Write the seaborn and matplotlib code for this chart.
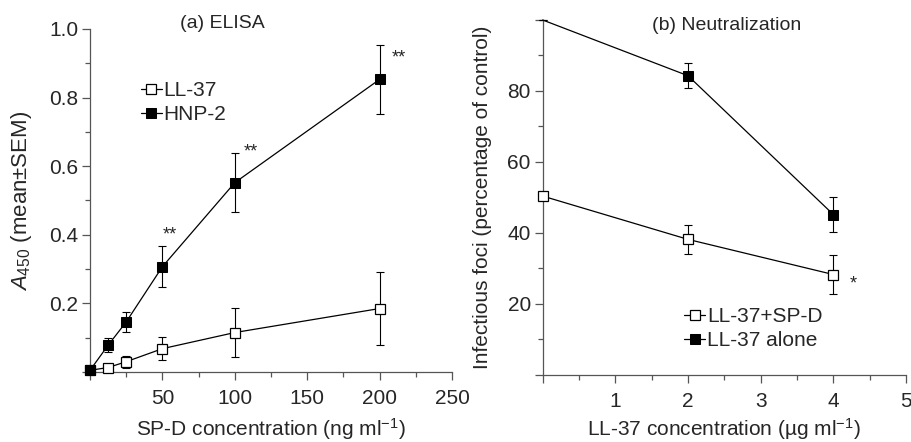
import numpy as np
import pandas as pd
import matplotlib
matplotlib.use("Agg")
import matplotlib.pyplot as plt
import seaborn as sns
from matplotlib.ticker import MultipleLocator, FuncFormatter

# Data
elisa_conc = [0, 12.5, 25, 50, 100, 200]
ll37_mean = [0.005, 0.013, 0.03, 0.068, 0.115, 0.185]
ll37_sem = [0.0, 0.008, 0.018, 0.034, 0.072, 0.106]
hnp2_mean = [0.005, 0.078, 0.146, 0.307, 0.552, 0.853]
hnp2_sem = [0.0, 0.02, 0.028, 0.06, 0.087, 0.1]

neut_conc = [0, 2, 4]
ll37_spd_mean = [50.4, 38.2, 28.3]
ll37_spd_sem = [0.0, 4.0, 5.5]
ll37_alone_mean = [100, 84.3, 45.2]
ll37_alone_sem = [0.0, 3.6, 5.0]

sns.set_style("ticks")
plt.rcParams['font.family'] = ['Liberation Sans', 'DejaVu Sans']
plt.rcParams['mathtext.fontset'] = 'custom'
plt.rcParams['mathtext.rm'] = 'Liberation Sans'
plt.rcParams['mathtext.it'] = 'Liberation Sans:italic'

fig = plt.figure(figsize=(9.12, 4.42), dpi=100)
ax1 = fig.add_axes([0.0987, 0.1584, 0.3969, 0.776])
ax2 = fig.add_axes([0.595, 0.1516, 0.3984, 0.8032])

elisa = pd.DataFrame({'conc': elisa_conc, 'll37': ll37_mean, 'hnp2': hnp2_mean})
neut = pd.DataFrame({'conc': neut_conc, 'spd': ll37_spd_mean, 'alone': ll37_alone_mean})

lw = 0.9
ms = 6.5

# (a) ELISA
ax1.errorbar(elisa_conc, ll37_mean, yerr=ll37_sem, fmt='none', ecolor='black',
             elinewidth=0.8, capsize=3, capthick=0.8, clip_on=False)
ax1.errorbar(elisa_conc, hnp2_mean, yerr=hnp2_sem, fmt='none', ecolor='black',
             elinewidth=0.8, capsize=3, capthick=0.8, clip_on=False)
sns.lineplot(data=elisa, x='conc', y='ll37', ax=ax1, color='black', lw=lw,
             marker='s', markersize=ms, markerfacecolor='white', markeredgecolor='black',
             markeredgewidth=0.9, label='LL-37', clip_on=False, zorder=3)
sns.lineplot(data=elisa, x='conc', y='hnp2', ax=ax1, color='black', lw=lw,
             marker='s', markersize=ms, markerfacecolor='black', markeredgecolor='black',
             label='HNP-2', clip_on=False, zorder=3)

ax1.set_xlim(0, 250)
ax1.set_ylim(0, 1.0)
ax1.xaxis.set_major_locator(MultipleLocator(50))
ax1.xaxis.set_minor_locator(MultipleLocator(25))
ax1.yaxis.set_major_locator(MultipleLocator(0.2))
ax1.yaxis.set_minor_locator(MultipleLocator(0.1))
ax1.xaxis.set_major_formatter(FuncFormatter(lambda v, p: '' if v == 0 else f'{v:.0f}'))
ax1.yaxis.set_major_formatter(FuncFormatter(lambda v, p: '' if abs(v) < 1e-9 else f'{v:.1f}'))
ax1.set_xlabel('SP-D concentration (ng ml$^{-1}$)', fontsize=15)
ax1.set_ylabel('$\\mathit{A}_{450}$ (mean±SEM)', fontsize=16)
ax1.yaxis.set_label_coords(-0.155, 0.5)
ax1.xaxis.set_label_coords(0.5, -0.128)
ax1.text(0.365, 1.015, '(a) ELISA', transform=ax1.transAxes, ha='center', va='center', fontsize=14)
stars1 = [(55, 0.40), (111, 0.64), (213, 0.915)]
for sx, sy in stars1:
    ax1.text(sx, sy, '**', ha='center', va='center', fontsize=13)
ax1.legend(loc='center left', bbox_to_anchor=(0.1, 0.785), frameon=False, fontsize=15,
           handlelength=1.0, handletextpad=0.1, labelspacing=0.25, borderpad=0.2)

# (b) Neutralization
ax2.errorbar(neut_conc, ll37_spd_mean, yerr=ll37_spd_sem, fmt='none', ecolor='black',
             elinewidth=0.8, capsize=3, capthick=0.8, clip_on=False)
ax2.errorbar(neut_conc, ll37_alone_mean, yerr=ll37_alone_sem, fmt='none', ecolor='black',
             elinewidth=0.8, capsize=3, capthick=0.8, clip_on=False)
sns.lineplot(data=neut, x='conc', y='spd', ax=ax2, color='black', lw=lw,
             marker='s', markersize=ms, markerfacecolor='white', markeredgecolor='black',
             markeredgewidth=0.9, label='LL-37+SP-D', clip_on=False, zorder=3)
sns.lineplot(data=neut, x='conc', y='alone', ax=ax2, color='black', lw=lw,
             marker='s', markersize=ms, markerfacecolor='black', markeredgecolor='black',
             markevery=[1, 2], label='LL-37 alone', clip_on=False, zorder=3)

ax2.set_xlim(0, 5)
ax2.set_ylim(0, 100)
ax2.xaxis.set_major_locator(MultipleLocator(1))
ax2.xaxis.set_minor_locator(MultipleLocator(0.5))
ax2.yaxis.set_major_locator(MultipleLocator(20))
ax2.yaxis.set_minor_locator(MultipleLocator(10))
ax2.xaxis.set_major_formatter(FuncFormatter(lambda v, p: '' if v == 0 else f'{v:.0f}'))
ax2.yaxis.set_major_formatter(FuncFormatter(lambda v, p: '' if v in (0, 100) else f'{v:.0f}'))
ax2.set_xlabel('LL-37 concentration (µg ml$^{-1}$)', fontsize=15)
ax2.set_ylabel('Infectious foci (percentage of control)', fontsize=15)
ax2.yaxis.set_label_coords(-0.14, 0.5)
ax2.xaxis.set_label_coords(0.5, -0.117)
ax2.text(0.505, 0.985, '(b) Neutralization', transform=ax2.transAxes, ha='center', va='center', fontsize=14)
ax2.text(4.27, 25.5, '*', ha='center', va='center', fontsize=13)
ax2.legend(loc='center left', bbox_to_anchor=(0.35, 0.13), frameon=False, fontsize=15,
           handlelength=1.0, handletextpad=0.1, labelspacing=0.25, borderpad=0.2)

for ax in (ax1, ax2):
    for side in ('top', 'right'):
        ax.spines[side].set_visible(False)
    for side in ('left', 'bottom'):
        ax.spines[side].set_color('#555555')
        ax.spines[side].set_linewidth(0.9)
    ax.tick_params(which='major', direction='out', length=6, width=0.9, color='#555555',
                   labelsize=15)
    ax.tick_params(which='minor', direction='out', length=3.5, width=0.9, color='#555555')
    ax.tick_params(axis='x', which='major', pad=6)
    ax.tick_params(axis='y', which='major', pad=2.5)

fig.savefig('out.png', dpi=100)
